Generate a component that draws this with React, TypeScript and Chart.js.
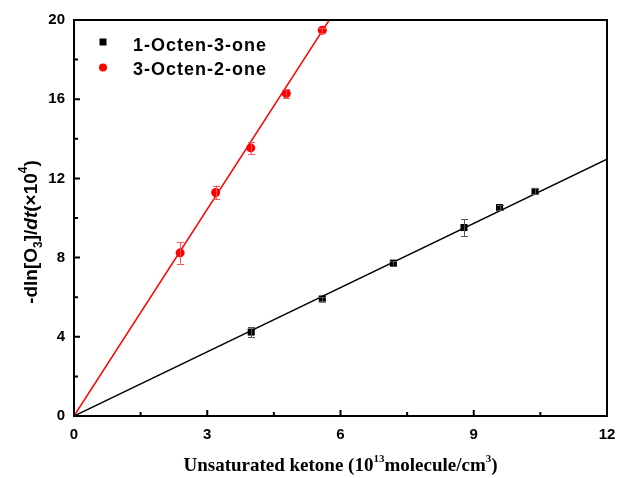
import React, { useEffect, useRef } from "react";
import { Chart, registerables } from "chart.js";

Chart.register(...registerables);

// 1-Octen-3-one
const octen3X = [3.99, 5.59, 7.19, 8.78, 9.58, 10.38];
const octen3Y = [4.24, 5.91, 7.72, 9.52, 10.53, 11.34];
const octen3Err = [0.25, 0.1, 0.12, 0.43, 0.12, 0.15];
const octen3Slope = 1.081;

// 3-Octen-2-one
const octen2X = [2.39, 3.19, 3.98, 4.78, 5.59];
const octen2Y = [8.24, 11.29, 13.54, 16.29, 19.48];
const octen2Err = [0.55, 0.35, 0.3, 0.22, 0.12];
const octen2Slope = 3.48;

const fitRangeX = [0, 12];

const xTicks = [0, 3, 6, 9, 12];
const yTicks = [0, 4, 8, 12, 16, 20];

const seriesLabels = ["1-Octen-3-one", "3-Octen-2-one"];
const seriesColors = ["#000000", "#ff0000"];
const errColors = ["#555555", "#ff5555"];

const errData = [octen3Err, octen2Err];

const overlayPlugin = {
  id: "overlay",
  afterDatasetsDraw(chart: any) {
    const ctx = chart.ctx;
    const xs = chart.scales.x;
    const ys = chart.scales.y;
    [0, 1].forEach((di) => {
      const ds = chart.data.datasets[di];
      ctx.save();
      ctx.strokeStyle = errColors[di];
      ctx.lineWidth = 1;
      ds.data.forEach((p: any, i: number) => {
        const e = errData[di][i];
        const px = Math.round(xs.getPixelForValue(p.x)) + 0.5;
        const yt = ys.getPixelForValue(p.y + e);
        const yb = ys.getPixelForValue(p.y - e);
        ctx.beginPath();
        ctx.moveTo(px, yt);
        ctx.lineTo(px, yb);
        ctx.moveTo(px - 3.5, Math.round(yt) + 0.5);
        ctx.lineTo(px + 3.5, Math.round(yt) + 0.5);
        ctx.moveTo(px - 3.5, Math.round(yb) + 0.5);
        ctx.lineTo(px + 3.5, Math.round(yb) + 0.5);
        ctx.stroke();
      });
      ctx.restore();
    });
  },
  afterDraw(chart: any) {
    const ctx = chart.ctx;
    const xs = chart.scales.x;
    const ys = chart.scales.y;
    const ca = chart.chartArea;
    ctx.save();
    // frame
    ctx.strokeStyle = "#000";
    ctx.lineWidth = 2;
    ctx.strokeRect(ca.left, ca.top, ca.right - ca.left, ca.bottom - ca.top);
    // inward ticks (bottom and left)
    ctx.beginPath();
    for (let v = 0; v <= 12; v += 1.5) {
      const px = xs.getPixelForValue(v);
      const len = Math.abs(v % 3) < 1e-6 ? 6 : 4;
      ctx.moveTo(px, ca.bottom);
      ctx.lineTo(px, ca.bottom - len);
    }
    for (let v = 0; v <= 20; v += 2) {
      const py = ys.getPixelForValue(v);
      const len = v % 4 === 0 ? 6 : 4;
      ctx.moveTo(ca.left, py);
      ctx.lineTo(ca.left + len, py);
    }
    ctx.stroke();

    // legend
    const lx = 103;
    const markerY = [42, 67.5];
    const textBase = [51, 75];
    ctx.font = "bold 18px 'Liberation Sans', Arial, sans-serif";
    (ctx as any).letterSpacing = "1px";
    ctx.textBaseline = "alphabetic";
    ctx.textAlign = "left";
    markerY.forEach((ly, i) => {
      ctx.fillStyle = seriesColors[i];
      if (i === 0) {
        ctx.fillRect(lx - 3.5, ly - 3.5, 7, 7);
      } else {
        ctx.beginPath();
        ctx.arc(lx, ly, 4, 0, Math.PI * 2);
        ctx.fill();
      }
      ctx.fillStyle = "#000";
      ctx.fillText(seriesLabels[i], 133, textBase[i]);
    });
    (ctx as any).letterSpacing = "0px";

    // x axis title
    const xParts: [string, string][] = [
      ["Unsaturated ketone (10", "n"],
      ["13", "s"],
      ["molecule/cm", "n"],
      ["3", "s"],
      [")", "n"],
    ];
    const fontN = "bold 19px 'Liberation Serif', 'Times New Roman', serif";
    const fontS = "bold 11px 'Liberation Serif', 'Times New Roman', serif";
    let total = 0;
    xParts.forEach(([t, k]) => {
      ctx.font = k === "n" ? fontN : fontS;
      total += ctx.measureText(t).width;
    });
    let cx = (ca.left + ca.right) / 2 - total / 2;
    const by = 471;
    ctx.fillStyle = "#000";
    xParts.forEach(([t, k]) => {
      ctx.font = k === "n" ? fontN : fontS;
      ctx.fillText(t, cx, k === "n" ? by : by - 9);
      cx += ctx.measureText(t).width;
    });

    // y axis title (rotated)
    const yParts: [string, string][] = [
      ["-dln[O", "n"],
      ["3", "b"],
      ["]/", "n"],
      ["dt", "i"],
      ["(\u00d710", "n"],
      ["4", "p"],
      [")", "n"],
    ];
    const fN = "bold 19px 'Liberation Sans', Arial, sans-serif";
    const fI = "italic bold 19px 'Liberation Sans', Arial, sans-serif";
    const fS = "bold 12px 'Liberation Sans', Arial, sans-serif";
    const fontFor = (k: string) => (k === "n" ? fN : k === "i" ? fI : fS);
    let tw = 0;
    yParts.forEach(([t, k]) => {
      ctx.font = fontFor(k);
      tw += ctx.measureText(t).width;
    });
    ctx.translate(37, 232);
    ctx.rotate(-Math.PI / 2);
    let tx = -tw / 2;
    yParts.forEach(([t, k]) => {
      ctx.font = fontFor(k);
      const dy = k === "b" ? 5 : k === "p" ? -10 : 0;
      ctx.fillText(t, tx, dy);
      tx += ctx.measureText(t).width;
    });
    ctx.restore();
  },
};

function App() {
  const ref = useRef<HTMLCanvasElement>(null);
  useEffect(() => {
    if (!ref.current) return;
    const fitX0 = fitRangeX[0];
    const fitX1 = fitRangeX[1];
    const chart = new Chart(ref.current, {
      type: "scatter",
      data: {
        datasets: [
          {
            label: seriesLabels[0],
            data: octen3X.map((x, i) => ({ x, y: octen3Y[i] })),
            backgroundColor: seriesColors[0],
            borderColor: seriesColors[0],
            pointStyle: "rect",
            pointRadius: 5,
            pointBorderWidth: 0,
            order: 0,
          },
          {
            label: seriesLabels[1],
            data: octen2X.map((x, i) => ({ x, y: octen2Y[i] })),
            backgroundColor: seriesColors[1],
            borderColor: seriesColors[1],
            pointStyle: "circle",
            pointRadius: 4.5,
            pointBorderWidth: 0,
            order: 0,
          },
          {
            label: "fit1",
            type: "line",
            data: [
              { x: fitX0, y: octen3Slope * fitX0 },
              { x: fitX1, y: octen3Slope * fitX1 },
            ],
            borderColor: seriesColors[0],
            borderWidth: 1.5,
            pointRadius: 0,
            showLine: true,
            fill: false,
            order: 1,
          } as any,
          {
            label: "fit2",
            type: "line",
            data: [
              { x: fitX0, y: octen2Slope * fitX0 },
              { x: fitX1, y: octen2Slope * fitX1 },
            ],
            borderColor: seriesColors[1],
            borderWidth: 1.5,
            pointRadius: 0,
            showLine: true,
            fill: false,
            order: 1,
          } as any,
        ],
      },
      options: {
        animation: false,
        responsive: false,
        maintainAspectRatio: false,
        layout: { padding: { left: 0, top: 20, right: 11, bottom: 0 } },
        plugins: {
          legend: { display: false },
          tooltip: { enabled: false },
        },
        scales: {
          x: {
            type: "linear",
            min: 0,
            max: 12,
            afterBuildTicks: (s: any) => {
              s.ticks = xTicks.map((v) => ({ value: v }));
            },
            afterFit: (s: any) => {
              s.height = 62;
              s.paddingLeft = 0;
              s.paddingRight = 0;
            },
            grid: { display: false, drawTicks: false },
            border: { display: false },
            ticks: {
              padding: 10,
              color: "#000",
              font: { family: "'Liberation Sans', Arial, sans-serif", size: 15, weight: "bold" },
              maxRotation: 0,
            },
          },
          y: {
            type: "linear",
            min: 0,
            max: 20,
            afterBuildTicks: (s: any) => {
              s.ticks = yTicks.map((v) => ({ value: v }));
            },
            afterFit: (s: any) => {
              s.width = 74;
              s.paddingTop = 0;
              s.paddingBottom = 0;
            },
            grid: { display: false, drawTicks: false },
            border: { display: false },
            ticks: {
              padding: 9,
              color: "#000",
              font: { family: "'Liberation Sans', Arial, sans-serif", size: 15, weight: "bold" },
            },
          },
        },
      } as any,
      plugins: [overlayPlugin],
    });
    return () => chart.destroy();
  }, []);
  return (
    <div style={{ position: "fixed", left: 0, top: 0, width: 618, height: 478, background: "#fff" }}>
      <canvas ref={ref} width={618} height={478} style={{ width: 618, height: 478 }} />
    </div>
  );
}

export default App;
